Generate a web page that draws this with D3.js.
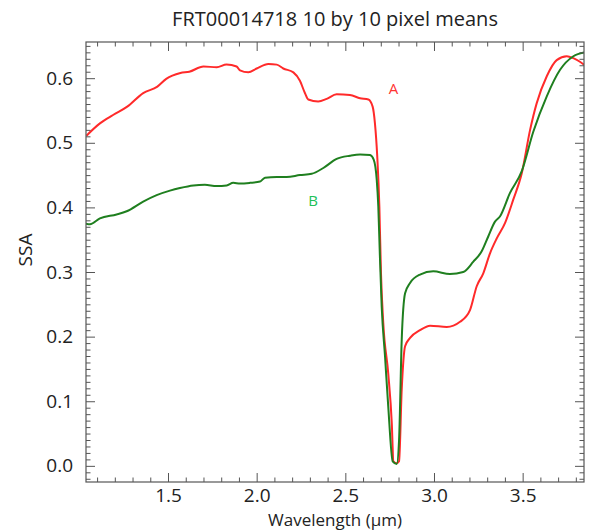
<!DOCTYPE html>
<html lang="en">
<head>
<meta charset="utf-8">
<title>FRT00014718 10 by 10 pixel means</title>
<script src="https://cdn.jsdelivr.net/npm/d3@7"></script>
<style>
	body { margin: 0; background: #fff; }
	text { font-family: "Open Sans", "Noto Sans", sans-serif; fill: #222; }
</style>
</head>
<body>
<div id="chart"></div>
<script>
	// spectra: wavelength (um) and SSA
	const wavelengthA = [1.04, 1.116, 1.19, 1.27, 1.36, 1.44, 1.49, 1.57, 1.62, 1.70, 1.775, 1.83, 1.887, 1.906, 1.953, 2.0, 2.066, 2.113, 2.15, 2.207, 2.244, 2.272, 2.291, 2.347, 2.395, 2.451, 2.526, 2.583, 2.63, 2.654, 2.667, 2.68, 2.692, 2.701, 2.714, 2.742, 2.762, 2.771, 2.79, 2.803, 2.818, 2.837, 2.865, 2.921, 2.978, 3.072, 3.147, 3.203, 3.241, 3.278, 3.316, 3.354, 3.401, 3.447, 3.495, 3.542, 3.579, 3.636, 3.692, 3.749, 3.786, 3.846];
	const ssaA = [0.511, 0.530, 0.543, 0.556, 0.577, 0.587, 0.599, 0.608, 0.610, 0.618, 0.617, 0.621, 0.618, 0.612, 0.609, 0.615, 0.622, 0.621, 0.615, 0.609, 0.596, 0.577, 0.567, 0.564, 0.568, 0.575, 0.574, 0.569, 0.567, 0.556, 0.530, 0.479, 0.401, 0.299, 0.221, 0.143, 0.066, 0.007, 0.004, 0.007, 0.118, 0.185, 0.198, 0.210, 0.217, 0.215, 0.223, 0.241, 0.278, 0.298, 0.329, 0.352, 0.376, 0.412, 0.453, 0.520, 0.561, 0.603, 0.628, 0.634, 0.631, 0.621];

	const wavelengthB = [1.035, 1.06, 1.116, 1.21, 1.267, 1.36, 1.436, 1.511, 1.567, 1.643, 1.708, 1.774, 1.831, 1.868, 1.906, 1.962, 2.019, 2.047, 2.113, 2.169, 2.244, 2.31, 2.376, 2.451, 2.526, 2.583, 2.639, 2.66, 2.677, 2.686, 2.695, 2.705, 2.724, 2.742, 2.767, 2.79, 2.803, 2.818, 2.837, 2.865, 2.921, 2.996, 3.09, 3.165, 3.222, 3.269, 3.306, 3.344, 3.372, 3.428, 3.495, 3.56, 3.636, 3.711, 3.786, 3.85];
	const ssaB = [0.375, 0.374, 0.383, 0.389, 0.394, 0.409, 0.419, 0.426, 0.430, 0.434, 0.435, 0.433, 0.434, 0.438, 0.437, 0.438, 0.440, 0.446, 0.447, 0.447, 0.450, 0.452, 0.461, 0.475, 0.480, 0.482, 0.481, 0.474, 0.443, 0.401, 0.324, 0.247, 0.169, 0.092, 0.007, 0.003, 0.040, 0.195, 0.267, 0.283, 0.296, 0.301, 0.297, 0.300, 0.316, 0.332, 0.355, 0.378, 0.386, 0.422, 0.456, 0.517, 0.572, 0.613, 0.634, 0.640];

	const xTicks = [1.5, 2.0, 2.5, 3.0, 3.5];
	const yTicks = [0.0, 0.1, 0.2, 0.3, 0.4, 0.5, 0.6];

	const series = [
		{ name: "A", x: wavelengthA, y: ssaA, color: "#ff2a2a", labelX: 2.772, labelY: 0.576, labelColor: "#ff3333" },
		{ name: "B", x: wavelengthB, y: ssaB, color: "#1f7f1f", labelX: 2.318, labelY: 0.402, labelColor: "#21c157" }
	];

	var margin = { top: 42, right: 6, bottom: 49, left: 86 },
		width = 590 - margin.left - margin.right,
		height = 531 - margin.top - margin.bottom;

	var svg = d3.select("#chart")
		.append("svg")
		.attr("width", 590)
		.attr("height", 531);

	var g = svg.append("g")
		.attr("transform", "translate(" + margin.left + "," + margin.top + ")");

	const x = d3.scaleLinear()
		.domain([1.0375, 3.846])
		.range([0, width]);

	const y = d3.scaleLinear()
		.domain([-0.025, 0.656])
		.range([height, 0]);

	// minor tick positions
	const xMinor = d3.range(11, 39).map(d => d / 10).filter(d => xTicks.indexOf(d) < 0);
	const yMinor = d3.range(-2, 66).map(d => d / 100).filter(d => Math.abs(d * 10 - Math.round(d * 10)) > 1e-6);

	const axisColor = "#555";

	// curves first, frame on top
	g.append("defs").append("clipPath").attr("id", "clip")
		.append("rect").attr("width", width).attr("height", height);

	series.forEach(function (s) {
		const pts = s.x.map((v, i) => [v, s.y[i]]);
		g.append("path")
			.datum(pts)
			.attr("clip-path", "url(#clip)")
			.attr("fill", "none")
			.attr("stroke", s.color)
			.attr("stroke-width", 2)
			.attr("stroke-linejoin", "round")
			.attr("d", d3.line()
				.curve(d3.curveMonotoneX)
				.x(function (d) { return x(d[0]) })
				.y(function (d) { return y(d[1]) })
			);

		g.append("text")
			.attr("x", x(s.labelX))
			.attr("y", y(s.labelY))
			.attr("text-anchor", "middle")
			.style("fill", s.labelColor)
			.style("font-size", "15px")
			.text(s.name);
	});

	function styleAxis(sel) {
		sel.select(".domain").remove();
		sel.selectAll("line").attr("stroke", axisColor);
		sel.selectAll("text").style("font-size", "19px").style("fill", "#222");
	}

	// bottom axis, ticks pointing inward
	g.append("g")
		.attr("transform", "translate(0," + height + ")")
		.call(d3.axisBottom(x).tickValues(xTicks).tickFormat(d3.format(".1f")).tickSizeInner(-9).tickSizeOuter(0).tickPadding(7))
		.call(styleAxis);
	g.append("g")
		.attr("transform", "translate(0," + height + ")")
		.call(d3.axisBottom(x).tickValues(xMinor).tickFormat("").tickSizeInner(-4.5).tickSizeOuter(0))
		.call(styleAxis);

	// top axis
	g.append("g")
		.call(d3.axisTop(x).tickValues(xTicks).tickFormat("").tickSizeInner(-9).tickSizeOuter(0))
		.call(styleAxis);
	g.append("g")
		.call(d3.axisTop(x).tickValues(xMinor).tickFormat("").tickSizeInner(-4.5).tickSizeOuter(0))
		.call(styleAxis);

	// left axis
	g.append("g")
		.call(d3.axisLeft(y).tickValues(yTicks).tickFormat(d3.format(".1f")).tickSizeInner(-9).tickSizeOuter(0).tickPadding(13))
		.call(styleAxis);
	g.append("g")
		.call(d3.axisLeft(y).tickValues(yMinor).tickFormat("").tickSizeInner(-4.5).tickSizeOuter(0))
		.call(styleAxis);

	// right axis
	g.append("g")
		.attr("transform", "translate(" + width + ",0)")
		.call(d3.axisRight(y).tickValues(yTicks).tickFormat("").tickSizeInner(-9).tickSizeOuter(0))
		.call(styleAxis);
	g.append("g")
		.attr("transform", "translate(" + width + ",0)")
		.call(d3.axisRight(y).tickValues(yMinor).tickFormat("").tickSizeInner(-4.5).tickSizeOuter(0))
		.call(styleAxis);

	// frame
	g.append("rect")
		.attr("width", width)
		.attr("height", height)
		.attr("fill", "none")
		.attr("stroke", axisColor)
		.attr("stroke-width", 1.2);

	// titles
	svg.append("text")
		.attr("x", margin.left + width / 2)
		.attr("y", 26)
		.attr("text-anchor", "middle")
		.style("font-size", "20px")
		.text("FRT00014718 10 by 10 pixel means");

	svg.append("text")
		.attr("x", margin.left + width / 2)
		.attr("y", 526)
		.attr("text-anchor", "middle")
		.style("font-size", "17px")
		.text("Wavelength (µm)");

	svg.append("text")
		.attr("transform", "translate(32,250) rotate(-90)")
		.attr("text-anchor", "middle")
		.style("font-size", "19px")
		.text("SSA");
</script>
</body>
</html>
